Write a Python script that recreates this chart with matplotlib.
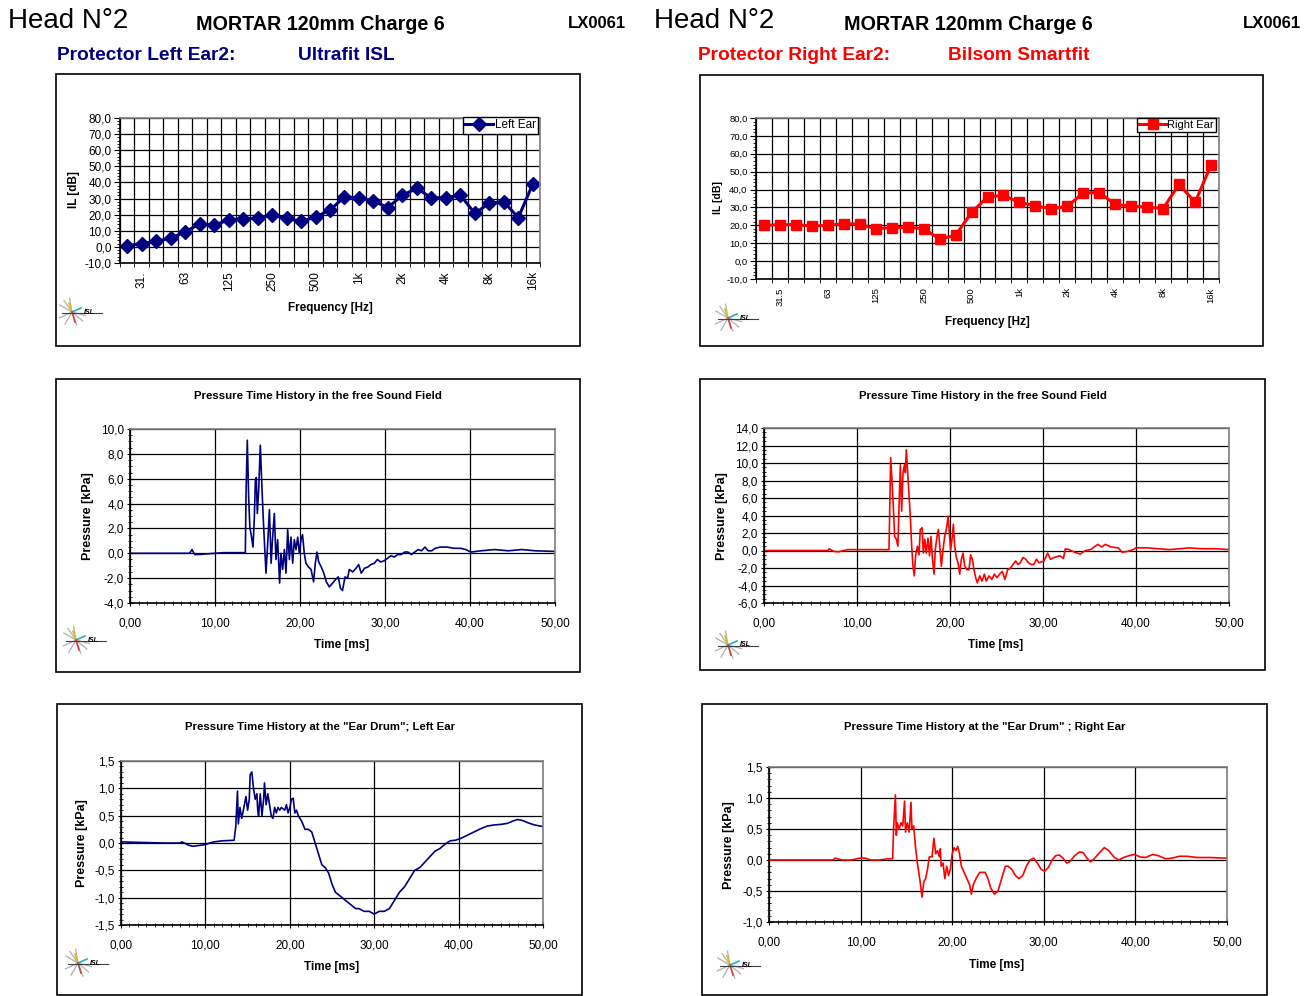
#!/usr/bin/env python3

import matplotlib
matplotlib.use('Agg')
import matplotlib.pyplot as plt
from matplotlib.patches import Rectangle
from matplotlib.ticker import FuncFormatter, MultipleLocator
import numpy as np

W, H = 1315, 996
NAVY = '#000080'
RED = '#ff0000'

plt.rcParams['font.family'] = ['Liberation Sans Narrow', 'Liberation Sans', 'DejaVu Sans']

# third octave bands 25 Hz .. 16 kHz
bands = ['25', '31.5', '40', '50', '63', '80', '100', '125', '160', '200', '250', '315',
         '400', '500', '630', '800', '1k', '1.25k', '1.6k', '2k', '2.5k', '3.15k', '4k',
         '5k', '6.3k', '8k', '10k', '12.5k', '16k']
shown_left = ['', '31.', '', '', '63', '', '', '125', '', '', '250', '', '', '500', '', '',
              '1k', '', '', '2k', '', '', '4k', '', '', '8k', '', '', '16k']
shown_right = ['', '31.5', '', '', '63', '', '', '125', '', '', '250', '', '', '500', '', '',
               '1k', '', '', '2k', '', '', '4k', '', '', '8k', '', '', '16k']

il_left = [0.8, 2.0, 3.5, 5.4, 9.4, 14.2, 13.5, 16.7, 17.5, 17.7, 19.8, 17.7, 15.8, 18.5,
           22.9, 31.0, 30.4, 28.5, 24.4, 32.1, 36.3, 30.4, 30.6, 32.1, 20.8, 27.1, 28.1,
           18.1, 39.0]
il_right = [20.0, 20.4, 20.4, 19.6, 20.0, 20.9, 20.6, 18.1, 18.7, 18.9, 18.1, 12.4, 14.4,
            27.2, 35.9, 36.7, 32.8, 30.9, 29.3, 30.6, 38.1, 38.3, 31.7, 30.7, 30.2, 29.4,
            43.0, 32.8, 53.7]

# (time ms, pressure kPa)
free_left = [
    (0.0, 0.0), (7.0, 0.0), (7.3, 0.3), (7.6, -0.1), (8.0, -0.1), (9.0, -0.05), (10.0, 0.0),
    (11.0, 0.05), (13.57, 0.05), (13.65, 4.8), (13.8, 9.1), (13.96, 4.5), (14.1, 2.1),
    (14.3, 1.3), (14.47, 0.5), (14.63, 2.9), (14.75, 5.9), (14.86, 6.1), (14.98, 3.2),
    (15.14, 5.1), (15.33, 8.7), (15.49, 5.9), (15.65, 3.2), (15.8, 1.1), (16.0, -1.6),
    (16.2, 0.8), (16.4, 3.5), (16.6, -0.8), (16.78, 1.3), (16.98, 3.2), (17.17, -0.5),
    (17.37, 1.1), (17.6, -2.4), (17.76, 0.0), (17.96, -1.3), (18.16, 0.3), (18.35, -1.6),
    (18.55, 1.9), (18.75, -0.5), (18.94, 1.3), (19.14, -0.8), (19.33, 1.1), (19.53, 0.3),
    (19.73, 1.3), (19.92, 0.0), (20.12, 1.1), (20.3, 1.5), (20.5, 0.0), (20.7, -0.8),
    (21.0, -1.1), (21.3, -1.3), (21.6, -2.3), (21.8, -0.8), (22.0, 0.1), (22.2, -0.7),
    (22.5, -1.1), (22.8, -1.6), (23.1, -2.3), (23.45, -2.7), (23.84, -2.4), (24.2, -2.1),
    (24.5, -1.9), (24.75, -2.8), (25.0, -3.0), (25.3, -1.9), (25.6, -2.0), (25.8, -1.3),
    (26.2, -1.5), (26.6, -1.2), (26.9, -0.9), (27.2, -1.6), (27.6, -1.2), (28.0, -1.1),
    (28.35, -0.9), (28.75, -0.8), (29.1, -0.5), (29.5, -0.7), (29.9, -0.6), (30.3, -0.4),
    (30.7, -0.2), (31.1, -0.3), (31.5, -0.1), (31.9, -0.1), (32.3, 0.1), (32.7, 0.1),
    (33.1, -0.1), (33.5, 0.1), (33.9, 0.3), (34.3, 0.2), (34.7, 0.5), (35.1, 0.2),
    (35.5, 0.2), (35.9, 0.4), (36.5, 0.5), (37.3, 0.5), (38.1, 0.4), (38.9, 0.4),
    (39.5, 0.3), (40.1, 0.1), (41.3, 0.2), (42.9, 0.3), (44.5, 0.2), (46.1, 0.3),
    (47.7, 0.2), (50.0, 0.15)]

free_right = [
    (0.0, 0.0), (6.9, 0.0), (7.0, 0.2), (7.5, -0.1), (8.0, -0.15), (9.0, 0.1), (10.0, 0.1),
    (13.44, 0.1), (13.5, 3.5), (13.62, 10.6), (13.76, 8.1), (13.9, 5.1), (14.05, 1.6),
    (14.23, 1.3), (14.4, 0.5), (14.5, 4.3), (14.66, 9.8), (14.8, 4.5), (14.95, 8.9),
    (15.1, 9.8), (15.2, 8.9), (15.3, 11.5), (15.45, 8.9), (15.6, 6.2), (15.73, 3.9),
    (15.88, 0.5), (16.02, -1.8), (16.16, -2.9), (16.3, -0.6), (16.5, 0.5), (16.67, -0.5),
    (16.8, 2.4), (17.0, 2.6), (17.13, -0.3), (17.28, 1.3), (17.45, -0.3), (17.63, 1.4),
    (17.8, -0.6), (17.96, 1.6), (18.1, -0.8), (18.28, -2.7), (18.42, 0.1), (18.6, 1.6),
    (18.75, 2.4), (18.9, 0.5), (19.07, -1.8), (19.25, 0.1), (19.43, 1.6), (19.6, 2.4),
    (19.8, 3.9), (19.93, 2.0), (20.07, 0.1), (20.25, 1.6), (20.36, 3.0), (20.5, 0.5),
    (20.68, -0.8), (20.86, -1.4), (21.04, -2.7), (21.22, -1.0), (21.4, -0.3), (21.58, -1.8),
    (21.83, -2.2), (22.04, -2.2), (22.22, -0.5), (22.4, -1.0), (22.58, -2.2), (22.76, -3.1),
    (22.94, -3.7), (23.2, -2.9), (23.44, -3.5), (23.7, -2.7), (23.9, -3.5), (24.2, -2.9),
    (24.5, -3.3), (24.77, -2.7), (25.05, -3.1), (25.34, -2.7), (25.63, -2.4), (25.9, -3.3),
    (26.2, -2.2), (26.5, -2.0), (26.77, -1.6), (27.06, -1.2), (27.3, -1.6), (27.56, -1.4),
    (27.85, -0.8), (28.14, -1.0), (28.42, -1.4), (28.75, -1.6), (29.0, -1.6), (29.3, -1.0),
    (29.57, -1.4), (30.1, -1.2), (30.5, -0.3), (30.8, -1.0), (31.2, -0.8), (31.8, -0.6),
    (32.2, -0.9), (32.4, 0.2), (32.8, 0.1), (33.4, -0.2), (34.0, -0.4), (34.6, 0.0),
    (35.1, 0.1), (35.5, 0.4), (35.9, 0.7), (36.3, 0.4), (36.7, 0.7), (37.3, 0.4),
    (38.1, 0.3), (38.5, -0.2), (39.1, -0.1), (39.7, 0.1), (40.0, 0.3), (41.2, 0.3),
    (42.4, 0.2), (43.6, 0.1), (44.7, 0.2), (45.7, 0.3), (47.1, 0.2), (48.6, 0.2),
    (50.0, 0.1)]

drum_left = [
    (0.0, 0.02), (5.0, 0.0), (7.0, 0.0), (7.2, 0.02), (7.5, 0.0), (8.0, -0.04),
    (8.5, -0.06), (9.0, -0.05), (10.0, -0.03), (10.5, 0.0), (11.0, 0.02), (12.0, 0.04),
    (13.4, 0.05), (13.6, 0.3), (13.8, 0.95), (13.9, 0.35), (14.1, 0.65), (14.3, 0.45),
    (14.5, 0.6), (14.8, 0.85), (15.0, 0.6), (15.2, 0.8), (15.3, 1.25), (15.5, 1.3),
    (15.7, 1.0), (15.9, 0.8), (16.1, 0.9), (16.2, 0.6), (16.3, 0.5), (16.5, 0.9),
    (16.7, 0.5), (16.9, 0.8), (17.0, 1.1), (17.2, 0.7), (17.4, 0.9), (17.6, 0.7),
    (17.8, 0.5), (18.0, 0.45), (18.2, 0.65), (18.4, 0.55), (18.6, 0.65), (18.8, 0.6),
    (19.0, 0.65), (19.4, 0.6), (19.6, 0.7), (19.8, 0.55), (20.0, 0.65), (20.2, 0.8),
    (20.4, 0.82), (20.6, 0.55), (20.8, 0.6), (21.0, 0.5), (21.4, 0.4), (21.8, 0.25),
    (22.2, 0.25), (22.6, 0.2), (23.0, 0.0), (23.4, -0.2), (23.8, -0.4), (24.2, -0.45),
    (24.6, -0.55), (25.0, -0.75), (25.4, -0.9), (25.8, -0.95), (26.2, -1.0), (26.6, -1.05),
    (27.0, -1.1), (27.4, -1.15), (27.8, -1.2), (28.2, -1.2), (28.8, -1.25), (29.4, -1.25),
    (30.0, -1.3), (30.6, -1.25), (31.2, -1.25), (31.8, -1.2), (32.2, -1.1), (32.6, -1.0),
    (33.0, -0.9), (33.6, -0.8), (34.2, -0.65), (34.8, -0.5), (35.4, -0.45), (36.0, -0.35),
    (36.6, -0.25), (37.2, -0.15), (37.8, -0.1), (38.4, -0.02), (39.0, 0.04), (39.6, 0.05),
    (40.2, 0.08), (41.0, 0.14), (41.8, 0.2), (42.6, 0.26), (43.4, 0.31), (44.2, 0.33),
    (45.0, 0.34), (45.8, 0.36), (46.4, 0.4), (47.0, 0.43), (47.6, 0.41), (48.2, 0.37),
    (49.0, 0.33), (50.0, 0.3)]

drum_right = [
    (0.0, 0.0), (7.0, 0.0), (7.2, 0.03), (8.0, 0.0), (9.0, 0.0), (9.9, 0.03), (10.5, 0.03),
    (11.1, 0.0), (12.0, 0.0), (13.0, 0.02), (13.5, 0.02), (13.6, 0.5), (13.8, 1.05),
    (13.9, 0.4), (14.0, 0.6), (14.2, 0.5), (14.4, 0.6), (14.6, 0.55), (14.8, 0.95),
    (14.9, 0.45), (15.1, 0.6), (15.3, 0.45), (15.5, 0.93), (15.6, 0.5), (15.8, 0.55),
    (16.0, 0.2), (16.2, -0.05), (16.4, -0.25), (16.5, -0.35), (16.7, -0.6), (16.9, -0.35),
    (17.1, -0.3), (17.3, -0.15), (17.5, 0.05), (17.8, 0.05), (18.0, 0.35), (18.2, 0.1),
    (18.4, 0.15), (18.6, 0.05), (18.7, 0.18), (18.8, -0.1), (19.0, -0.05), (19.2, -0.3),
    (19.4, -0.1), (19.6, -0.25), (19.8, -0.15), (20.0, 0.1), (20.2, 0.2), (20.4, 0.15),
    (20.6, 0.22), (20.8, 0.1), (21.0, -0.1), (21.3, -0.2), (21.6, -0.3), (21.9, -0.4),
    (22.1, -0.55), (22.3, -0.4), (22.6, -0.3), (23.0, -0.2), (23.3, -0.2), (23.6, -0.2),
    (23.9, -0.3), (24.2, -0.45), (24.6, -0.55), (25.0, -0.5), (25.4, -0.3), (25.8, -0.1),
    (26.1, -0.1), (26.5, -0.15), (26.9, -0.25), (27.3, -0.3), (27.7, -0.25), (28.1, -0.1),
    (28.5, 0.0), (28.9, 0.03), (29.3, -0.05), (29.7, -0.15), (30.1, -0.18), (30.5, -0.12),
    (30.9, 0.0), (31.3, 0.07), (31.7, 0.08), (32.1, 0.03), (32.5, -0.05), (32.9, -0.02),
    (33.3, 0.06), (33.9, 0.13), (34.3, 0.12), (34.7, 0.03), (35.1, -0.03), (35.5, 0.02),
    (36.1, 0.12), (36.6, 0.2), (37.1, 0.15), (37.7, 0.04), (38.2, 0.0), (38.7, 0.04),
    (39.3, 0.07), (39.9, 0.09), (40.5, 0.05), (41.1, 0.04), (41.9, 0.09), (42.5, 0.07),
    (43.3, 0.02), (44.0, 0.03), (44.8, 0.06), (45.6, 0.06), (46.8, 0.04), (48.0, 0.04),
    (50.0, 0.03)]


def px_axes(fig, x0, y0, x1, y1):
    return fig.add_axes([x0 / W, 1 - y1 / H, (x1 - x0) / W, (y1 - y0) / H])


def ftext(fig, x, y, s, **kw):
    fig.text(x / W, 1 - y / H, s, **kw)


def comma(nd):
    return FuncFormatter(lambda v, p: f"{v:.{nd}f}".replace('.', ','))


def box(fig, x0, y0, x1, y1):
    fig.add_artist(Rectangle((x0 / W, 1 - y1 / H), (x1 - x0) / W, (y1 - y0) / H,
                             transform=fig.transFigure, fill=False, ec='black', lw=1.2))


def frame(ax):
    ax.spines['top'].set_color('#808080')
    ax.spines['right'].set_color('#808080')
    ax.spines['left'].set_color('black')
    ax.spines['bottom'].set_color('black')
    for s in ax.spines.values():
        s.set_linewidth(1.2)
    ax.set_axisbelow(True)


def logo(fig, x, y):
    # small ISL mark, x,y = centre of the star in pixels
    ax = fig.add_axes([(x - 14) / W, 1 - (y + 18) / H, 46 / W, 36 / H])
    ax.set_xlim(-14, 32)
    ax.set_ylim(-18, 18)
    ax.axis('off')
    for ang in [100, 125, 150, 205, 240, 290, 320, 345]:
        a = np.radians(ang)
        ax.plot([0, 14 * np.cos(a)], [0, 14 * np.sin(a)], color='#b0b0b0', lw=0.9)
    ax.plot([0, -3], [0, 9], color='#e0c000', lw=1.2)
    ax.plot([0, 9], [0, 4], color='#20b0c0', lw=1.2)
    ax.plot([0, 3], [0, -10], color='#d04040', lw=1.2)
    ax.plot([-10, 30], [-1, -1], color='#404040', lw=0.8)
    ax.text(12, 0, 'ISL', fontsize=5, fontweight='bold', style='italic', va='center',
            ha='left', color='black')


def il_panel(fig, rect, values, labels, color, marker, ms, name, tsize, lsize, legend_px):
    ax = px_axes(fig, *rect)
    frame(ax)
    x = np.arange(len(values))
    ax.plot(x, values, color=color, lw=2.2, marker=marker, ms=ms, label=name)
    ax.set_xlim(-0.5, len(values) - 0.5)
    ax.set_ylim(-10, 80)
    ax.set_xticks(x)
    ax.set_xticklabels(labels, rotation=90, fontsize=tsize)
    ax.set_xticks(np.arange(len(values) + 1) - 0.5, minor=True)
    ax.tick_params(axis='x', which='major', length=0, pad=6)
    ax.tick_params(axis='x', which='minor', length=3, direction='out')
    ax.yaxis.set_major_locator(MultipleLocator(10))
    ax.yaxis.set_minor_locator(MultipleLocator(2))
    ax.yaxis.set_major_formatter(comma(1))
    ax.tick_params(axis='y', which='major', length=4, labelsize=tsize, pad=2)
    ax.tick_params(axis='y', which='minor', length=2)
    ax.grid(True, which='minor', axis='x', color='black', lw=0.9)
    ax.grid(True, which='major', axis='y', color='black', lw=0.9)
    lx, ly = legend_px
    leg = ax.legend(loc='upper right', bbox_to_anchor=(lx / W, 1 - ly / H),
                    bbox_transform=fig.transFigure, fontsize=lsize, frameon=True,
                    fancybox=False, framealpha=1, edgecolor='black', borderpad=0.2,
                    handlelength=2.4, handletextpad=0.1, borderaxespad=0)
    leg.get_frame().set_linewidth(1.0)
    return ax


def time_panel(fig, rect, data, color, ylim, ystep, yminor, ynd):
    ax = px_axes(fig, *rect)
    frame(ax)
    t = [d[0] for d in data]
    p = [d[1] for d in data]
    ax.plot(t, p, color=color, lw=1.2)
    ax.set_xlim(0, 50)
    ax.set_ylim(*ylim)
    ax.xaxis.set_major_locator(MultipleLocator(10))
    ax.xaxis.set_minor_locator(MultipleLocator(1))
    ax.yaxis.set_major_locator(MultipleLocator(ystep))
    ax.yaxis.set_minor_locator(MultipleLocator(yminor))
    ax.xaxis.set_major_formatter(comma(2))
    ax.yaxis.set_major_formatter(comma(ynd))
    ax.tick_params(axis='both', which='major', length=5, direction='inout', labelsize=8.5)
    ax.tick_params(axis='both', which='minor', length=3, direction='inout')
    ax.tick_params(axis='x', which='major', pad=8)
    ax.tick_params(axis='y', which='major', pad=2)
    ax.grid(True, which='major', color='black', lw=0.9)
    return ax


fig = plt.figure(figsize=(W / 100, H / 100), dpi=100)

# headers
for x0, col, prot, model in [(0, NAVY, 'Protector Left Ear2:', 'Ultrafit ISL'),
                             (646, RED, 'Protector Right Ear2:', 'Bilsom Smartfit')]:
    ftext(fig, x0 + 8, 21, 'Head N°2', fontsize=20, va='center')
    ftext(fig, x0 + 196 if x0 == 0 else 844, 24, 'MORTAR 120mm Charge 6', fontsize=14.2,
          fontweight='bold', va='center')
    ftext(fig, 568 if x0 == 0 else 1243, 24, 'LX0061', fontsize=12, fontweight='bold',
          va='center')
    ftext(fig, 57 if x0 == 0 else 698, 55, prot, fontsize=13.8, fontweight='bold',
          color=col, va='center')
    ftext(fig, 298 if x0 == 0 else 948, 55, model, fontsize=13.8, fontweight='bold',
          color=col, va='center')

# outer boxes
box(fig, 56, 74, 580, 346)
box(fig, 700, 75, 1263, 346)
box(fig, 56, 379, 580, 672)
box(fig, 700, 379, 1265, 670)
box(fig, 57, 704, 582, 995)
box(fig, 702, 704, 1267, 995)

# insertion loss panels
il_panel(fig, (120, 118, 540, 263), il_left, shown_left, NAVY, 'D', 7, 'Left Ear', 8.5, 8.5,
         (538, 117))
ftext(fig, 74, 190, 'IL [dB]', fontsize=8.5, fontweight='bold', rotation=90,
      ha='center', va='center')
ftext(fig, 330, 308, 'Frequency [Hz]', fontsize=8.5, fontweight='bold', ha='center',
      va='center')

il_panel(fig, (756, 118, 1219, 279), il_right, shown_right, RED, 's', 7, 'Right Ear', 6.8,
         8, (1216, 118))
ftext(fig, 718, 198, 'IL [dB]', fontsize=7.5, fontweight='bold', rotation=90,
      ha='center', va='center')
ftext(fig, 987, 322, 'Frequency [Hz]', fontsize=8.5, fontweight='bold', ha='center',
      va='center')

# free field
time_panel(fig, (130, 429, 555, 603), free_left, NAVY, (-4, 10), 2, 0.5, 1)
ftext(fig, 318, 396, 'Pressure Time History in the free Sound Field', fontsize=8.2,
      fontweight='bold', ha='center', va='center')
ftext(fig, 88, 516, 'Pressure [kPa]', fontsize=9, fontweight='bold', rotation=90,
      ha='center', va='center')
ftext(fig, 342, 645, 'Time [ms]', fontsize=8.5, fontweight='bold', ha='center', va='center')

time_panel(fig, (764, 428, 1229, 603), free_right, RED, (-6, 14), 2, 0.5, 1)
ftext(fig, 983, 396, 'Pressure Time History in the free Sound Field', fontsize=8.2,
      fontweight='bold', ha='center', va='center')
ftext(fig, 722, 516, 'Pressure [kPa]', fontsize=9, fontweight='bold', rotation=90,
      ha='center', va='center')
ftext(fig, 996, 645, 'Time [ms]', fontsize=8.5, fontweight='bold', ha='center', va='center')

# ear drum
time_panel(fig, (121, 761, 543, 925), drum_left, NAVY, (-1.5, 1.5), 0.5, 0.1, 1)
ftext(fig, 320, 727, 'Pressure Time History at the "Ear Drum"; Left Ear', fontsize=8.2,
      fontweight='bold', ha='center', va='center')
ftext(fig, 82, 843, 'Pressure [kPa]', fontsize=9, fontweight='bold', rotation=90,
      ha='center', va='center')
ftext(fig, 332, 967, 'Time [ms]', fontsize=8.5, fontweight='bold', ha='center', va='center')

time_panel(fig, (769, 767, 1227, 922), drum_right, RED, (-1.0, 1.5), 0.5, 0.1, 1)
ftext(fig, 985, 727, 'Pressure Time History at the "Ear Drum" ; Right Ear', fontsize=8.2,
      fontweight='bold', ha='center', va='center')
ftext(fig, 729, 845, 'Pressure [kPa]', fontsize=9, fontweight='bold', rotation=90,
      ha='center', va='center')
ftext(fig, 997, 965, 'Time [ms]', fontsize=8.5, fontweight='bold', ha='center', va='center')

for lx, ly in [(72, 312), (728, 318), (76, 640), (728, 645), (78, 963), (730, 965)]:
    logo(fig, lx, ly)

fig.savefig('out.png', dpi=100)
